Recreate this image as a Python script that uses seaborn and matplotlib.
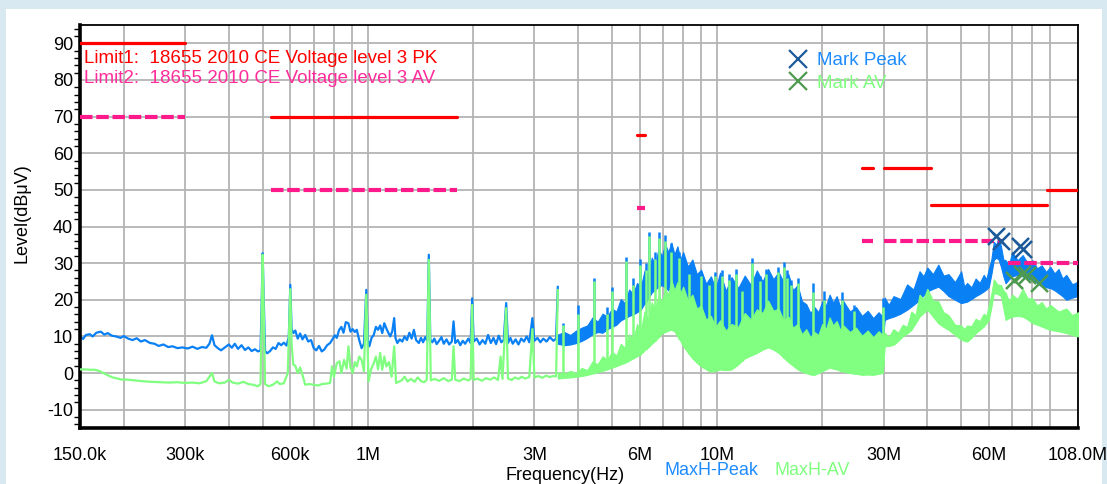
"""
Conducted emission scan (GB/T 18655-2010, level 3) - recreated from a receiver screenshot.
"""

import numpy as np
import matplotlib
matplotlib.use("Agg")
import matplotlib.pyplot as plt
from matplotlib.lines import Line2D
from matplotlib.patches import Rectangle
from matplotlib.ticker import FixedLocator, NullFormatter, MultipleLocator
import seaborn as sns

# ---------------------------------------------------------------------------
# Data (frequency in MHz, level in dBuV)
# ---------------------------------------------------------------------------

# MaxH-Peak, thin trace below 3.5 MHz
peak_low_f = [0.150, 0.153, 0.156, 0.160, 0.163, 0.167, 0.172, 0.176, 0.180, 0.185,
              0.190, 0.196, 0.200, 0.206, 0.212, 0.218, 0.224, 0.230, 0.238, 0.245,
              0.252, 0.260, 0.268, 0.276, 0.285, 0.295, 0.305, 0.315, 0.325, 0.335,
              0.345, 0.352, 0.358, 0.364, 0.372, 0.380, 0.390, 0.400, 0.408, 0.416,
              0.425, 0.435, 0.445, 0.455, 0.465, 0.475, 0.485, 0.493, 0.497, 0.500,
              0.503, 0.508, 0.515, 0.525, 0.535, 0.545, 0.555, 0.565, 0.575, 0.585,
              0.594, 0.600, 0.605, 0.612, 0.620, 0.630, 0.640, 0.650, 0.662, 0.675,
              0.688, 0.700, 0.712, 0.725, 0.738, 0.750, 0.765, 0.780, 0.795, 0.805,
              0.815, 0.828, 0.840, 0.852, 0.865, 0.880, 0.892, 0.905, 0.918, 0.930,
              0.945, 0.960, 0.975, 0.990, 1.000, 1.010, 1.025, 1.040, 1.055, 1.070,
              1.085, 1.100, 1.115, 1.130, 1.145, 1.160, 1.175, 1.190, 1.200, 1.215,
              1.235, 1.255, 1.275, 1.295, 1.315, 1.335, 1.355, 1.375, 1.400, 1.420,
              1.440, 1.460, 1.480, 1.495, 1.510, 1.530, 1.550, 1.575, 1.600, 1.625,
              1.650, 1.680, 1.710, 1.740, 1.760, 1.780, 1.810, 1.840, 1.870, 1.900,
              1.940, 1.970, 1.990, 2.010, 2.050, 2.090, 2.130, 2.170, 2.210, 2.250,
              2.290, 2.330, 2.370, 2.410, 2.450, 2.490, 2.520, 2.560, 2.600, 2.650,
              2.700, 2.750, 2.800, 2.850, 2.900, 2.960, 3.000, 3.060, 3.120, 3.180,
              3.250, 3.320, 3.400, 3.460, 3.500]
peak_low_db = [10.0, 9.3, 10.4, 10.6, 10.0, 11.0, 11.3, 10.5, 10.9, 10.2,
               10.0, 9.6, 10.1, 9.4, 9.0, 9.5, 8.6, 9.0, 8.2, 8.0,
               7.4, 7.8, 7.1, 7.3, 6.8, 7.0, 6.7, 7.2, 6.6, 7.1,
               6.9, 8.0, 10.3, 7.6, 6.8, 6.2, 7.0, 7.8, 6.9, 8.0,
               6.6, 7.6, 6.3, 7.0, 6.0, 6.5, 5.9, 6.2, 20.0, 32.7,
               22.0, 6.0, 5.4, 6.0, 7.0, 6.6, 8.2, 7.6, 8.3, 7.5,
               9.8, 24.1, 12.0, 10.9, 11.6, 9.4, 10.8, 9.2, 10.4, 8.6,
               9.0, 6.8, 6.2, 7.4, 5.9, 6.4, 7.6, 8.2, 9.5, 10.3,
               9.6, 11.8, 12.6, 11.0, 13.9, 13.6, 11.3, 12.0, 11.2, 11.8,
               9.0, 6.8, 8.0, 22.7, 9.0, 7.3, 9.6, 10.4, 12.6, 11.8,
               13.0, 10.9, 13.6, 12.2, 11.0, 10.0, 11.4, 15.0, 9.6, 8.2,
               9.2, 8.6, 10.0, 9.0, 11.0, 9.4, 11.8, 9.0, 8.2, 9.6,
               8.4, 9.8, 8.8, 32.3, 9.1, 8.4, 9.4, 7.9, 8.8, 9.8,
               8.0, 9.2, 7.8, 8.6, 14.1, 8.2, 9.0, 7.6, 8.8, 8.0,
               9.4, 8.2, 20.4, 8.6, 9.4, 7.8, 9.0, 8.0, 10.4, 8.2,
               9.6, 7.9, 10.2, 8.4, 9.0, 19.1, 8.2, 9.6, 8.0, 9.2,
               7.8, 9.4, 8.6, 10.0, 8.4, 15.0, 8.8, 9.6, 8.4, 9.4,
               8.6, 9.8, 8.8, 9.4, 23.6]

# MaxH-AV, thin trace below 3.5 MHz
av_low_f = [0.150, 0.155, 0.160, 0.165, 0.170, 0.175, 0.180, 0.186, 0.192, 0.198,
            0.205, 0.215, 0.225, 0.240, 0.255, 0.270, 0.285, 0.300, 0.315, 0.330,
            0.345, 0.352, 0.358, 0.364, 0.375, 0.390, 0.400, 0.410, 0.425, 0.440,
            0.455, 0.470, 0.485, 0.493, 0.497, 0.500, 0.503, 0.508, 0.520, 0.535,
            0.550, 0.560, 0.575, 0.590, 0.600, 0.605, 0.612, 0.620, 0.630, 0.640,
            0.650, 0.662, 0.680, 0.700, 0.720, 0.740, 0.760, 0.780, 0.790, 0.800,
            0.815, 0.830, 0.840, 0.855, 0.870, 0.880, 0.892, 0.905, 0.918, 0.930,
            0.945, 0.960, 0.975, 0.990, 1.005, 1.020, 1.040, 1.055, 1.070, 1.085,
            1.100, 1.115, 1.130, 1.150, 1.170, 1.190, 1.205, 1.225, 1.250, 1.275,
            1.300, 1.330, 1.360, 1.390, 1.420, 1.450, 1.475, 1.495, 1.515, 1.550,
            1.600, 1.650, 1.700, 1.740, 1.760, 1.780, 1.830, 1.880, 1.940, 1.970,
            1.990, 2.010, 2.060, 2.120, 2.180, 2.240, 2.300, 2.360, 2.400, 2.430,
            2.490, 2.520, 2.580, 2.640, 2.700, 2.760, 2.820, 2.900, 2.960, 3.000,
            3.080, 3.160, 3.240, 3.320, 3.400, 3.460, 3.500]
av_low_db = [1.0, 1.0, 0.9, 0.9, 0.6, 0.0, -0.6, -1.2, -1.5, -1.8,
             -1.8, -2.0, -2.2, -2.4, -2.5, -2.6, -2.5, -2.7, -2.6, -2.8,
             -2.2, -1.0, 0.0, -2.3, -2.8, -2.6, -1.8, -2.6, -2.9, -2.4,
             -3.0, -3.2, -3.6, -3.0, 18.0, 32.3, 20.0, -3.0, -3.6, -3.2,
             -2.3, -3.0, -2.8, 0.0, 22.9, 8.0, 2.3, 2.0, 0.0, 1.5,
             -0.5, -3.2, -3.0, -3.2, -3.4, -3.0, -2.9, -2.7, 1.8, -1.0,
             2.7, 3.2, 0.0, 3.6, 1.2, 7.3, 1.6, 0.0, 3.0, 1.8,
             4.5, 3.6, 0.5, 21.4, -2.3, 0.8, 2.7, 4.5, 1.0, 5.5,
             0.9, 4.5, 1.8, 3.0, -1.0, 7.3, -2.7, -2.4, -2.0, -1.0,
             -2.3, -1.6, -2.4, -1.2, -2.2, -2.5, -1.8, 30.9, -2.0, -1.6,
             -2.1, -1.4, -2.2, -1.8, 7.3, -1.8, -2.2, -1.5, -2.0, -1.6,
             18.6, -1.9, -1.5, -2.1, -1.4, -1.8, -1.2, -1.9, 4.5, -1.6,
             17.7, -1.5, -1.9, -1.2, -1.6, -1.0, -1.5, -1.1, 12.0, -1.2,
             -0.8, -1.3, -0.7, -1.1, -0.8, -0.9, 22.7]

# Dense part above 3.5 MHz: lower / upper envelope of the MaxH-Peak trace
peak_band_f = [3.50, 3.65, 3.80, 3.95, 4.10, 4.25, 4.40, 4.55, 4.70, 4.85,
               5.00, 5.15, 5.30, 5.45, 5.60, 5.75, 5.90, 6.05, 6.20, 6.35,
               6.50, 6.65, 6.80, 6.95, 7.10, 7.25, 7.40, 7.55, 7.70, 7.85,
               8.00, 8.25, 8.50, 8.75, 9.00, 9.30, 9.60, 9.90, 10.2, 10.6,
               11.0, 11.5, 12.0, 12.5, 13.0, 13.5, 14.0, 14.5, 15.0, 15.5,
               16.0, 16.5, 17.0, 17.5, 18.0, 18.5, 19.0, 19.5, 20.0, 20.5,
               21.0, 21.5, 22.0, 22.5, 23.0, 24.0, 25.0, 26.0, 27.0, 28.0,
               29.0, 29.8, 30.2, 31.0, 32.0, 33.5, 35.0, 36.5, 38.0, 39.0,
               40.0, 41.5, 43.0, 44.5, 46.0, 48.0, 50.0, 51.0, 52.0, 53.5,
               55.0, 56.5, 58.0, 59.0, 60.0, 61.0, 62.0, 63.0, 64.0, 65.0,
               66.0, 67.0, 68.5, 70.0, 72.5, 75.0, 77.5, 80.0, 82.5, 85.0,
               87.5, 90.0, 92.5, 95.0, 97.5, 100.0, 104.0, 108.0]
peak_band_lo = [8.0, 7.6, 7.8, 8.2, 8.8, 9.6, 10.6, 11.2, 11.0, 12.0,
                12.6, 13.2, 14.4, 15.0, 15.6, 16.0, 16.6, 17.4, 19.0, 20.4,
                22.0, 22.8, 23.6, 24.0, 23.4, 22.6, 21.6, 20.8, 19.8, 18.8,
                17.2, 15.6, 14.2, 13.0, 12.0, 11.2, 10.6, 10.4, 11.0, 10.6,
                11.0, 10.4, 10.0, 10.6, 11.0, 11.6, 12.0, 11.8, 11.0, 10.6,
                10.0, 9.8, 9.5, 9.2, 9.0, 8.8, 8.5, 9.0, 9.5, 10.6,
                11.5, 11.4, 11.0, 10.6, 10.0, 9.0, 8.8, 8.5, 8.6, 8.5,
                8.8, 9.0, 14.5, 15.0, 15.4, 16.2, 17.3, 18.6, 20.0, 21.2,
                22.3, 23.0, 23.6, 22.4, 21.0, 20.0, 19.1, 19.3, 19.5, 20.2,
                21.0, 21.6, 22.3, 22.8, 23.6, 27.0, 30.9, 31.5, 31.0, 29.0,
                26.5, 24.5, 25.6, 26.4, 26.8, 26.4, 25.8, 25.4, 24.6, 23.6,
                23.4, 23.2, 22.6, 21.8, 21.0, 20.0, 20.6, 21.0]
peak_band_hi = [10.5, 11.2, 10.4, 11.6, 12.4, 13.0, 15.2, 14.0, 16.2, 15.4,
                17.6, 16.8, 20.2, 19.0, 22.8, 21.6, 24.6, 23.4, 28.0, 26.6,
                31.5, 29.6, 34.0, 31.8, 35.2, 33.0, 35.6, 32.4, 34.6, 31.0,
                33.0, 29.0, 31.0, 27.0, 28.2, 24.4, 26.4, 23.0, 27.4, 22.4,
                26.2, 23.2, 26.6, 24.0, 28.0, 25.0, 28.4, 25.6, 27.6, 24.8,
                27.0, 22.6, 24.0, 19.6, 18.8, 16.4, 18.0, 16.6, 19.6, 18.4,
                21.4, 19.2, 21.0, 18.2, 19.6, 16.8, 18.0, 15.6, 17.0, 15.0,
                16.6, 15.4, 20.6, 18.6, 21.0, 20.2, 24.2, 22.8, 27.8, 26.4,
                28.8, 27.0, 29.6, 26.6, 27.0, 24.8, 27.8, 23.6, 24.6, 23.4,
                25.8, 24.6, 26.8, 25.6, 28.4, 31.0, 35.8, 35.0, 37.0, 34.6,
                31.0, 30.8, 29.6, 33.0, 30.8, 32.2, 30.0, 30.8, 28.6, 29.4,
                27.6, 29.0, 27.2, 28.4, 25.8, 26.8, 24.2, 25.0]

# Dense part above 3.5 MHz: lower / upper envelope of the MaxH-AV trace
av_band_f = [3.50, 3.65, 3.80, 3.95, 4.10, 4.25, 4.40, 4.55, 4.70, 4.85,
             5.00, 5.15, 5.30, 5.45, 5.60, 5.75, 5.90, 6.05, 6.20, 6.35,
             6.50, 6.65, 6.80, 6.95, 7.10, 7.25, 7.40, 7.55, 7.70, 7.85,
             8.00, 8.25, 8.50, 8.75, 9.00, 9.30, 9.60, 9.90, 10.2, 10.6,
             11.0, 11.5, 12.0, 12.5, 13.0, 13.5, 14.0, 14.5, 15.0, 15.5,
             16.0, 16.5, 17.0, 17.5, 18.0, 18.5, 19.0, 19.5, 20.0, 20.5,
             21.0, 21.5, 22.0, 22.5, 23.0, 24.0, 25.0, 26.0, 27.0, 28.0,
             29.0, 29.8, 30.2, 31.0, 32.0, 33.0, 34.0, 35.0, 36.0, 37.0,
             38.0, 39.0, 40.0, 41.5, 43.0, 44.5, 46.0, 48.0, 50.0, 51.0,
             52.0, 53.5, 55.0, 56.5, 58.0, 59.0, 60.0, 61.0, 62.0, 63.5,
             65.0, 66.0, 67.0, 68.5, 70.0, 72.5, 75.0, 77.5, 80.0, 82.5,
             85.0, 87.5, 90.0, 95.0, 100.0, 104.0, 108.0]
av_band_lo = [-1.5, -1.3, -1.2, -1.0, -0.8, -0.5, -0.1, 0.2, 0.6, 1.0,
              1.5, 1.9, 2.4, 2.8, 3.4, 4.0, 4.6, 5.2, 6.2, 7.0,
              8.0, 8.8, 9.8, 10.8, 11.2, 11.6, 11.8, 11.4, 10.0, 8.8,
              7.3, 5.6, 4.0, 2.8, 1.8, 1.0, 0.4, 0.6, 1.0, 0.8,
              1.0, 2.4, 4.0, 4.8, 5.5, 6.4, 7.0, 6.4, 5.5, 4.2,
              3.0, 2.0, 1.0, 0.4, 0.0, -0.4, -0.5, 0.0, 0.5, 1.0,
              1.5, 1.2, 1.0, 0.6, 0.4, 0.0, -0.2, -0.5, -0.4, -0.5,
              -0.2, 0.0, 7.3, 7.4, 7.7, 8.8, 10.0, 10.8, 11.8, 13.6,
              15.4, 16.4, 17.3, 15.4, 13.6, 12.6, 11.8, 10.4, 9.1, 8.8,
              8.6, 9.6, 10.9, 11.8, 12.7, 13.6, 14.5, 18.0, 21.8, 21.6,
              21.0, 17.8, 14.5, 15.0, 15.4, 15.6, 15.4, 14.6, 13.6, 13.2,
              12.7, 12.2, 11.8, 11.4, 10.9, 10.4, 10.0]
av_band_hi = [0.2, -0.2, 0.6, 0.0, 1.4, 0.8, 3.2, 2.4, 4.6, 3.6,
              5.8, 4.8, 8.0, 6.8, 10.6, 9.0, 13.4, 11.6, 16.8, 14.6,
              19.4, 17.2, 21.0, 19.6, 23.0, 21.4, 25.4, 22.6, 24.8, 21.8,
              23.6, 19.8, 21.4, 17.6, 18.4, 14.6, 15.6, 12.6, 14.4, 11.6,
              13.4, 12.6, 16.4, 14.6, 17.4, 16.4, 19.8, 17.0, 17.6, 14.4,
              15.4, 12.4, 13.4, 10.6, 12.0, 9.8, 11.2, 10.4, 13.4, 12.0,
              15.2, 13.0, 14.2, 11.8, 13.0, 11.2, 12.4, 10.2, 11.6, 9.8,
              11.4, 10.4, 11.0, 9.8, 12.0, 11.0, 13.2, 12.6, 16.8, 15.8,
              21.4, 20.2, 23.0, 19.8, 19.6, 16.6, 15.8, 13.2, 13.0, 12.0,
              13.0, 12.8, 14.8, 14.2, 16.2, 15.6, 18.6, 21.6, 25.6, 24.2,
              24.0, 22.6, 22.0, 19.6, 21.4, 20.2, 23.0, 20.4, 20.4, 18.4,
              19.4, 17.6, 18.6, 16.8, 17.6, 15.8, 16.6]

# Narrow spikes standing out of the dense part
spike_f = [3.62, 4.00, 4.44, 4.85, 5.00, 5.50, 5.75, 6.00, 6.25, 6.40,
           6.65, 6.80, 7.10, 7.40, 7.80, 8.30, 9.00, 9.50, 9.85, 10.30,
           10.80, 11.30, 11.80, 12.60, 13.30, 13.80, 14.90, 15.50, 15.90, 16.30,
           17.00, 18.80, 20.30, 22.80, 24.70, 29.90]
spike_peak_db = [13.7, 18.6, 26.0, 18.0, 23.6, 31.6, 26.0, 31.0, 30.0, 38.6,
                 33.0, 38.6, 37.8, 35.5, 33.0, 29.5, 27.7, 25.5, 27.7, 28.0,
                 27.0, 28.4, 24.0, 31.4, 26.5, 28.4, 29.0, 30.2, 28.0, 25.5,
                 26.0, 24.5, 22.3, 22.0, 18.6, 20.4]
spike_av_db = [13.0, 16.0, 25.0, 16.0, 22.5, 30.5, 24.0, 29.5, 28.0, 37.5,
               31.0, 37.0, 36.0, 33.0, 31.5, 27.0, 26.5, 24.0, 26.5, 26.5,
               25.5, 27.0, 22.5, 30.0, 25.0, 27.0, 27.5, 29.0, 26.0, 24.0,
               24.5, 22.0, 20.0, 20.0, 17.0, 18.0]

# Limit lines (start MHz, stop MHz, level dBuV)
pk_start = [0.15, 0.53, 5.9, 26.0, 30.0, 41.0, 88.0]
pk_stop = [0.30, 1.8, 6.2, 28.0, 41.0, 88.0, 108.0]
pk_level = [90, 70, 65, 56, 56, 46, 50]
av_start = [0.15, 0.53, 5.9, 26.0, 30.0, 68.0]
av_stop = [0.30, 1.8, 6.2, 28.0, 66.0, 108.0]
av_level = [70, 50, 45, 36, 36, 30]

# Final measurement marks
mark_peak_f = [63.1, 65.2, 73.6, 75.2]
mark_peak_db = [37.4, 36.1, 34.7, 33.8]
mark_av_f = [71.0, 74.5, 77.0, 83.5]
mark_av_db = [25.5, 27.0, 26.8, 24.6]

# Axis ticks
x_tick_mhz = [0.15, 0.3, 0.6, 1, 3, 6, 10, 30, 60, 108]
x_tick_labels = ["150.0k", "300k", "600k", "1M", "3M", "6M", "10M", "30M", "60M", "108.0M"]
x_grid_mhz = [0.2, 0.4, 0.5, 0.7, 0.8, 0.9, 2, 4, 5, 7, 8, 9, 20, 40, 50, 70, 80, 90]
y_ticks = [-10, 0, 10, 20, 30, 40, 50, 60, 70, 80, 90]

# Colours
PEAK_C = "#0A80F5"
AV_C = "#80FF80"
PK_C = "#FF0000"
AVL_C = "#FF1A8C"
MARK_PEAK_C = "#1C5A9A"
MARK_AV_C = "#4E9A4E"
GRID_C = "#B4B4B4"

MHZ = 1e6

sns.set_theme(style="white")
plt.rcParams["font.family"] = ["Liberation Sans", "DejaVu Sans"]
plt.rcParams["axes.unicode_minus"] = False

fig = plt.figure(figsize=(11.07, 4.84), dpi=100, facecolor="#D9E9F1")
fig.add_artist(Rectangle((0.0054, 0.0), 0.9901, 0.9814, transform=fig.transFigure,
                         facecolor="white", edgecolor="none", zorder=-10))
ax = fig.add_axes([0.0723, 0.1157, 0.9015, 0.8326])
ax.set_facecolor("white")

# MaxH-Peak
sns.lineplot(x=np.array(peak_low_f) * MHZ, y=peak_low_db, ax=ax, color=PEAK_C,
             linewidth=1.6, estimator=None, sort=False, zorder=2)
ax.fill_between(np.array(peak_band_f) * MHZ, peak_band_lo, peak_band_hi,
                color=PEAK_C, linewidth=0.8, zorder=2)
peak_base = np.interp(np.log10(spike_f), np.log10(peak_band_f), peak_band_lo)
ax.vlines(np.array(spike_f) * MHZ, peak_base, spike_peak_db, color=PEAK_C, lw=1.8, zorder=2)

# MaxH-AV (drawn over the peak trace)
sns.lineplot(x=np.array(av_low_f) * MHZ, y=av_low_db, ax=ax, color=AV_C,
             linewidth=1.6, estimator=None, sort=False, zorder=3)
ax.fill_between(np.array(av_band_f) * MHZ, av_band_lo, av_band_hi,
                color=AV_C, linewidth=0.8, zorder=3)
av_base = np.interp(np.log10(spike_f), np.log10(av_band_f), av_band_lo)
ax.vlines(np.array(spike_f) * MHZ, av_base, spike_av_db, color=AV_C, lw=1.8, zorder=3)

# Limits
pk_lines = ax.hlines(pk_level, np.array(pk_start) * MHZ, np.array(pk_stop) * MHZ,
                     colors=PK_C, lw=2.3, zorder=4)
pk_lines.set_capstyle("round")
ax.hlines(av_level, np.array(av_start) * MHZ, np.array(av_stop) * MHZ,
          colors=AVL_C, lw=3.0, linestyles=(0, (3.0, 0.9)), zorder=4)

# Marks
ax.scatter(np.array(mark_peak_f) * MHZ, mark_peak_db, marker="x", s=150,
           linewidths=1.8, color=MARK_PEAK_C, zorder=5)
ax.scatter(np.array(mark_av_f) * MHZ, mark_av_db, marker="x", s=150,
           linewidths=1.8, color=MARK_AV_C, zorder=5)

# Axes
ax.set_xscale("log")
ax.set_xlim(0.15 * MHZ, 108 * MHZ)
ax.set_ylim(-15, 95)
ax.xaxis.set_major_locator(FixedLocator([v * MHZ for v in x_tick_mhz]))
ax.set_xticklabels(x_tick_labels)
ax.xaxis.set_minor_locator(FixedLocator([v * MHZ for v in x_grid_mhz]))
ax.xaxis.set_minor_formatter(NullFormatter())
ax.set_yticks(y_ticks)
ax.yaxis.set_minor_locator(MultipleLocator(2))

ax.grid(True, which="both", axis="x", color=GRID_C, lw=1.3)
ax.grid(True, which="major", axis="y", color=GRID_C, lw=1.3)
ax.set_axisbelow(True)

ax.tick_params(axis="x", which="both", direction="out", length=9, width=1.8,
               color=GRID_C, labelsize=13, pad=5, labelcolor="black")
ax.tick_params(axis="y", which="major", direction="in", length=8, width=3,
               color=GRID_C, labelsize=13, pad=5, labelcolor="black")
ax.tick_params(axis="y", which="minor", direction="out", length=4, width=1,
               color="black", left=True)

for side in ["left", "bottom"]:
    ax.spines[side].set_linewidth(2.6)
    ax.spines[side].set_color("black")
for side in ["top", "right"]:
    ax.spines[side].set_linewidth(1.3)
    ax.spines[side].set_color("black")

ax.set_ylabel("Level(dBμV)", fontsize=13, color="black")
ax.yaxis.set_label_coords(-0.05, 0.533)
ax.set_xlabel("Frequency(Hz)", fontsize=13, color="black")
ax.xaxis.set_label_coords(0.486, -0.097)

# Annotations
ax.text(0.004, 0.918, "Limit1:  18655 2010 CE Voltage level 3 PK", transform=ax.transAxes,
        color=PK_C, fontsize=13.5, va="center", ha="left")
ax.text(0.004, 0.868, "Limit2:  18655 2010 CE Voltage level 3 AV", transform=ax.transAxes,
        color="#FF2D9B", fontsize=13.5, va="center", ha="left")

ax.text(0.586, -0.106, "MaxH-Peak", transform=ax.transAxes, color="#1E8CFF",
        fontsize=13, va="center", ha="left")
ax.text(0.696, -0.106, "MaxH-AV", transform=ax.transAxes, color=AV_C,
        fontsize=13, va="center", ha="left")

handles = [Line2D([], [], ls="none", marker="x", ms=13, mew=1.6, color=MARK_PEAK_C),
           Line2D([], [], ls="none", marker="x", ms=13, mew=1.6, color=MARK_AV_C)]
ax.legend(handles, ["Mark Peak", "Mark AV"], loc="upper left", bbox_to_anchor=(0.693, 0.975),
          frameon=False, fontsize=13.5, handlelength=1.0, handletextpad=0.5,
          labelspacing=0.3, labelcolor=["#1E8CFF", AV_C])

fig.savefig("out.png", dpi=100, facecolor=fig.get_facecolor())
